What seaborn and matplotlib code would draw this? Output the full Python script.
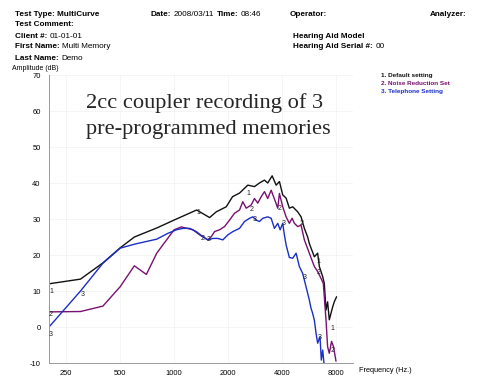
import numpy as np
import pandas as pd
import matplotlib
matplotlib.use("Agg")
import matplotlib.pyplot as plt
import seaborn as sns

# ---------------- data ----------------
freq_default = [200, 300, 400, 500, 600, 800, 1000, 1337, 1580, 1722, 1958, 2122, 2322,
                2583, 2815, 3000, 3200, 3338, 3533, 3720, 3880, 4048, 4228, 4410, 4602,
                4906, 5126, 5348, 5580, 5700, 6080, 6345, 6485, 6770, 6912, 7065, 7212,
                7370, 7533, 7690, 7860, 8094]
db_default = [12, 13.3, 17.8, 22, 25, 27.5, 29.7, 32.5, 30.4, 32, 33.4, 36.2, 37.2,
              39.4, 39, 40, 40.8, 40, 42, 39.4, 40.4, 36.7, 35.8, 33, 33.4,
              32, 30.6, 27.4, 25, 23.2, 19.5, 20.5, 16.8, 14, 12.1, 4.7, 7,
              2, 3.8, 5.5, 7, 8.4]

freq_noise = [200, 300, 400, 500, 600, 700, 800, 1000, 1098, 1275, 1389, 1545, 1615,
              1684, 1796, 1915, 2042, 2177, 2322, 2422, 2530, 2698, 2815, 2936, 3068,
              3200, 3338, 3488, 3686, 3796, 3880, 4048, 4228, 4410, 4566, 4704, 4906,
              5126, 5348, 5700, 6080, 6345, 6626, 6824, 7065, 7212, 7370, 7590, 7788, 8032]
db_noise = [4.2, 4.3, 5.8, 11.2, 17, 14.6, 20.5, 27, 27.8, 27, 25.6, 24.2, 25.1,
            26.5, 27, 27.9, 29.7, 31.6, 32.5, 34.8, 33, 33.9, 35.7, 34.4, 36.2,
            37.6, 35.7, 38, 34.8, 33, 37.1, 33.4, 30.6, 28.8, 30.2, 28.8, 27.9,
            28.3, 24.2, 20.5, 16.8, 15.4, 13.5, 12.1, 2, -5.5, -7.3, -4, -5.5, -9.5]

freq_phone = [200, 300, 400, 500, 600, 800, 922, 1030, 1121, 1222, 1331, 1449, 1545,
              1648, 1757, 1874, 1998, 2130, 2322, 2476, 2640, 2754, 2876, 3000, 3131,
              3338, 3488, 3638, 3796, 3915, 4048, 4136, 4228, 4410, 4602, 4808, 5014,
              5232, 5464, 5700, 5828, 5948, 6080, 6214, 6345, 6540, 6652, 6770, 6912]
db_phone = [0, 10, 17.7, 21.9, 23, 24.4, 26, 27, 27.4, 27.4, 26.5, 25.1, 24.2,
            24.6, 24.6, 24.2, 25.6, 26.5, 27.4, 29.3, 30.2, 30.6, 29.7, 29.3, 30.2,
            30.6, 30.2, 27.4, 28.8, 27, 28.8, 25.6, 22.8, 19.3, 19.1, 20.5, 16.8,
            14.9, 11.2, 7.5, 5.2, 3.8, 1.9, -1.7, -4.5, -2.7, -9.2, -6.4, -11]

series_names = ["1. Default setting", "2. Noise Reduction Set", "3. Telephone Setting"]
series_colors = ["#111111", "#7a1070", "#1a2fc4"]
x_tick_values = [250, 500, 1000, 2000, 4000, 8000]
y_tick_values = [-10, 0, 10, 20, 30, 40, 50, 60, 70]

# curve-number labels: (series index, data point index, dx px, dy px)
curve_labels = [
    (0, 0, 2, -8), (0, 7, 2, -2), (0, 13, 1, -8), (0, 31, 1, -8), (0, 39, 0, -21),
    (1, 0, 2, -3), (1, 10, 3, -4), (1, 20, 5, -1), (1, 29, 2, 0), (1, 37, 1, 2),
    (1, 41, 1, -1), (1, 48, -1, -4),
    (2, 0, 2, -7), (2, 1, 2, -4), (2, 12, 1, 0), (2, 21, 2, -3), (2, 30, 1, 0),
    (2, 37, 2, -4), (2, 45, 0, -1),
]

freqs = [freq_default, freq_noise, freq_phone]
dbs = [db_default, db_noise, db_phone]
frames = []
for name, f, d in zip(series_names, freqs, dbs):
    frames.append(pd.DataFrame({"freq": f, "db": d, "setting": name}))
df = pd.concat(frames, ignore_index=True)

# ---------------- figure ----------------
sns.set_theme(style="white")
plt.rcParams["font.family"] = ["Liberation Sans", "DejaVu Sans"]

W, H = 490, 380
fig = plt.figure(figsize=(W / 100, H / 100), dpi=100)
ax_left, ax_right, ax_top, ax_bottom = 49, 353, 75, 363
ax = fig.add_axes([ax_left / W, 1 - ax_bottom / H, (ax_right - ax_left) / W,
                   (ax_bottom - ax_top) / H])

sns.lineplot(data=df, x="freq", y="db", hue="setting", palette=series_colors,
             hue_order=series_names, sort=False, estimator=None, units="setting",
             linewidth=1.0, legend=False, ax=ax)

ax.set_xscale("log")
ax.set_xlim(200, 10000)
ax.set_ylim(-10, 70)
ax.set_xticks(x_tick_values)
ax.set_xticklabels([str(v) for v in x_tick_values])
minor = [315, 400, 630, 800, 1250, 1600, 2500, 3150, 5000, 6300]
ax.set_xticks(minor, minor=True)
ax.set_xticklabels([], minor=True)
ax.set_yticks(y_tick_values)
ax.set_yticklabels([str(v) for v in y_tick_values])
ax.set_yticks(np.arange(-5, 70, 10), minor=True)
ax.set_xlabel("")
ax.set_ylabel("")
for side in ["top", "right"]:
    ax.spines[side].set_visible(False)
for side in ["left", "bottom"]:
    ax.spines[side].set_color("#9a9a9a")
    ax.spines[side].set_linewidth(0.7)
ax.tick_params(axis="both", which="major", labelsize=5.4, colors="#9a9a9a",
               labelcolor="black", length=2, width=0.6, direction="out")
ax.tick_params(axis="both", which="minor", colors="#9a9a9a", length=1.5,
               width=0.5, direction="out")
ax.tick_params(axis="y", pad=4)
ax.tick_params(axis="x", pad=3)
ax.grid(True, which="major", color="#f1f1f1", linewidth=0.5)
ax.set_axisbelow(True)

for si, pi, dx, dy in curve_labels:
    ax.annotate(str(si + 1), (freqs[si][pi], dbs[si][pi]),
                xytext=(dx * 0.72, dy * 0.72), textcoords="offset points",
                fontsize=5, color="#222222", ha="center", va="center",
                annotation_clip=False)

# ---------------- texts ----------------
renderer = fig.canvas.get_renderer()


def run(px, py, parts, size=5.9, color="black"):
    """parts: list of (text, bold) drawn one after another."""
    x = px
    for s, bold in parts:
        t = fig.text(x / W, 1 - py / H, s, fontsize=size,
                     fontweight="bold" if bold else "normal",
                     va="center", ha="left", color=color)
        bb = t.get_window_extent(renderer)
        x += bb.width + size * 0.45


run(15, 14, [("Test Type: MultiCurve", True)])
run(15, 25, [("Test Comment:", True)])
run(15, 36, [("Client #:", True), ("01-01-01", False)])
run(15, 47, [("First Name:", True), ("Multi Memory", False)])
run(15, 58, [("Last Name:", True), ("Demo", False)])
run(150.5, 14, [("Date:", True), ("2008/03/11", False), ("Time:", True), ("08:46", False)])
run(290, 14, [("Operator:", True)])
run(430, 14, [("Analyzer:", True)])
run(293, 36, [("Hearing Aid Model", True)])
run(293, 47, [("Hearing Aid Serial #:", True), ("00", False)])

run(12, 68.5, [("Amplitude (dB)", False)], size=5.0)
run(359, 370, [("Frequency (Hz.)", False)], size=5.3)

for i, (name, col) in enumerate(zip(series_names, series_colors)):
    run(381, 76 + i * 7.5, [(name, True)], size=4.6, color=col)

fig.text(86 / W, 1 - 103 / H, "2cc coupler recording of 3", fontsize=16.1,
         family=["Liberation Serif", "DejaVu Serif"], va="center", ha="left")
fig.text(86 / W, 1 - 129 / H, "pre-programmed memories", fontsize=16.1,
         family=["Liberation Serif", "DejaVu Serif"], va="center", ha="left")

fig.savefig("out.png", dpi=100)
